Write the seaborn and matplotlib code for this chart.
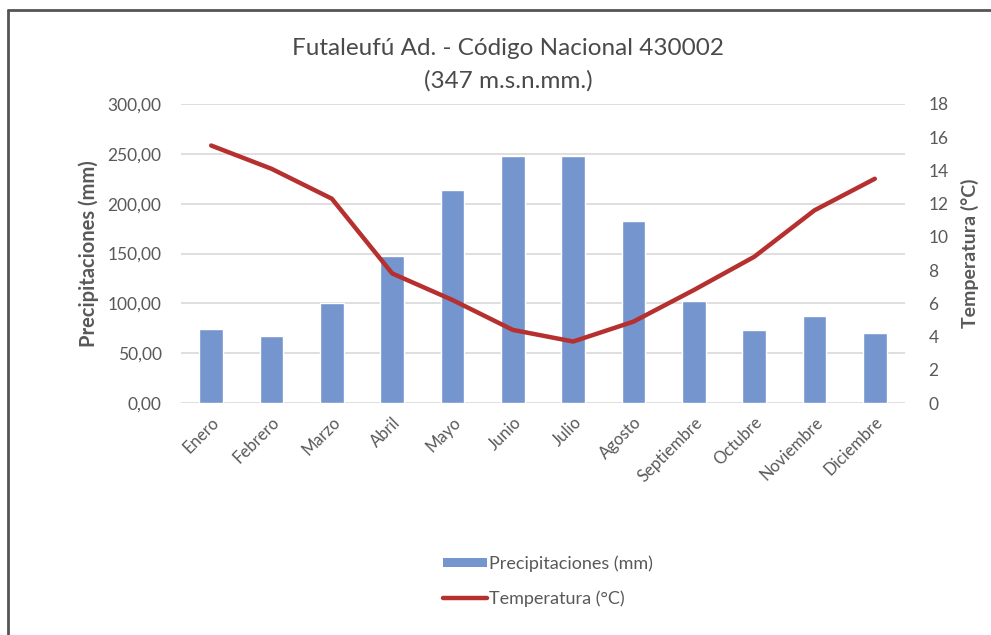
import numpy as np
import pandas as pd
import matplotlib
matplotlib.use("Agg")
import matplotlib.pyplot as plt
from matplotlib.lines import Line2D
from matplotlib.patches import Patch
import seaborn as sns

# Monthly climate normals, Futaleufú Aeródromo
meses = ["Enero", "Febrero", "Marzo", "Abril", "Mayo", "Junio", "Julio",
         "Agosto", "Septiembre", "Octubre", "Noviembre", "Diciembre"]
precipitacion = [74.5, 66.8, 100.8, 147.6, 213.7, 248.0, 247.5,
                 183.0, 102.8, 72.8, 86.8, 70.5]
temperatura = [15.5, 14.1, 12.3, 7.8, 6.2, 4.4, 3.7,
               4.9, 6.8, 8.8, 11.6, 13.5]

titulo = "Futaleufú Ad. - Código Nacional 430002\n(347 m.s.n.mm.)"
etiqueta_pp = "Precipitaciones (mm)"
etiqueta_t = "Temperatura (°C)"

pp_ticks = [0, 50, 100, 150, 200, 250, 300]
t_ticks = list(range(0, 19, 2))

COLOR_BAR = "#7595CE"
COLOR_LINE = "#B5302E"
COLOR_TXT = "#595959"
COLOR_TITLE = "#4A4A4A"
COLOR_GRID = "#D9D9D9"

sns.set_theme(style="white")
plt.rcParams["font.family"] = ["Lato", "DejaVu Sans"]

W, H = 991, 635
fig = plt.figure(figsize=(W / 100, H / 100), dpi=100)
fig.patch.set_facecolor("white")

left, right, top, bottom = 181, 905, 104, 403
ax = fig.add_axes([left / W, 1 - bottom / H, (right - left) / W, (bottom - top) / H])

df = pd.DataFrame({"mes": meses, "pp": precipitacion, "t": temperatura,
                   "pos": np.arange(len(meses))})

sns.barplot(data=df, x="mes", y="pp", color=COLOR_BAR, saturation=1,
            width=0.39, ax=ax, order=meses)
ax.set_xlim(-0.5, len(meses) - 0.5)
ax.set_ylim(0, 300)
ax.set_yticks(pp_ticks)
ax.set_yticklabels([f"{v:.2f}".replace(".", ",") for v in pp_ticks],
                   color=COLOR_TXT, fontsize=12.5)
ax.yaxis.grid(True, color=COLOR_GRID, linewidth=1.2)
ax.set_axisbelow(True)
for s in ax.spines.values():
    s.set_visible(False)
ax.tick_params(axis="both", length=0)
ax.tick_params(axis="y", pad=14)
ax.set_xticks(range(len(meses)))
ax.set_xticklabels(meses, rotation=45, ha="right", rotation_mode="anchor",
                   color=COLOR_TXT, fontsize=12)
ax.tick_params(axis="x", pad=8)
ax.set_xlabel("")
ax.set_ylabel(etiqueta_pp, color=COLOR_TXT, fontsize=14.5, fontweight="bold",
              labelpad=6)

ax2 = ax.twinx()
sns.lineplot(data=df, x="pos", y="t", color=COLOR_LINE, linewidth=3.2,
             ax=ax2, legend=False)
ax2.set_ylim(0, 18)
ax2.set_yticks(t_ticks)
ax2.set_yticklabels([str(v) for v in t_ticks], color=COLOR_TXT, fontsize=12.5)
ax2.tick_params(axis="y", length=0, pad=17)
for s in ax2.spines.values():
    s.set_visible(False)
ax2.set_xlim(-0.5, len(meses) - 0.5)
ax2.set_xlabel("")
ax2.set_ylabel(etiqueta_t, color=COLOR_TXT, fontsize=14, fontweight="bold",
               rotation=90, labelpad=9)

fig.text(508 / W, 1 - 65 / H, titulo, ha="center", va="center",
         fontsize=17.5, color=COLOR_TITLE, linespacing=1.65)

handles = [Patch(facecolor=COLOR_BAR, edgecolor="none"),
           Line2D([0], [0], color=COLOR_LINE, linewidth=3.2)]
leg = fig.legend(handles, [etiqueta_pp, etiqueta_t], loc="center",
                 bbox_to_anchor=(548 / W, 1 - 581 / H), frameon=False,
                 fontsize=13, handlelength=2.45, handleheight=0.45,
                 handletextpad=0.1, labelspacing=1.0)
for t in leg.get_texts():
    t.set_color(COLOR_TXT)

# outer chart frame (left and top edges)
fig.add_artist(Line2D([8 / W, 8 / W], [0, 1 - 10 / H], color="#555555",
                      linewidth=2, transform=fig.transFigure))
fig.add_artist(Line2D([8 / W, 1], [1 - 10 / H, 1 - 10 / H], color="#555555",
                      linewidth=2, transform=fig.transFigure))

fig.savefig("out.png", dpi=100)
